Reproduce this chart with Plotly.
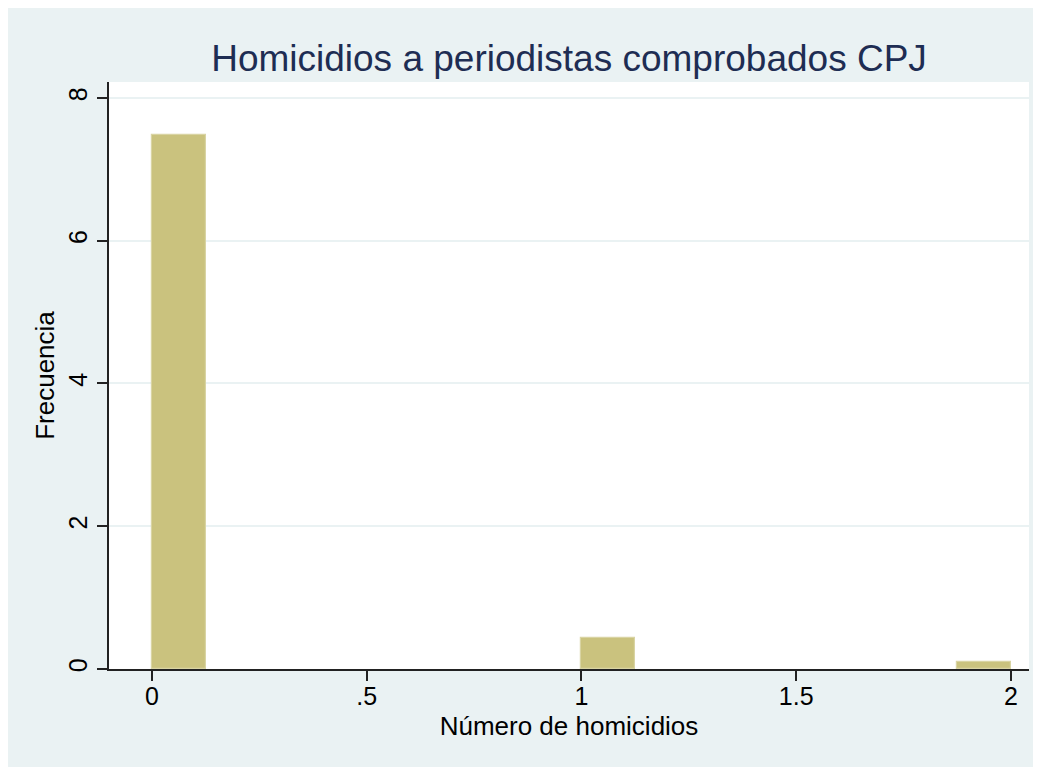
import plotly.graph_objects as go

# Data (Stata-style density histogram, bin width 0.125)
bin_starts = [0.0, 1.0, 1.875]
densities = [7.48, 0.44, 0.10]
bin_width = 0.125

x_tickvals = [0, 0.5, 1, 1.5, 2]
x_ticktext = ["0", ".5", "1", "1.5", "2"]
y_tickvals = [0, 2, 4, 6, 8]
y_ticktext = ["0", "2", "4", "6", "8"]

title_text = "Homicidios a periodistas comprobados CPJ"
x_title = "Número de homicidios"
y_title = "Frecuencia"

FONT = "Liberation Sans, Arial, Helvetica, sans-serif"
BG = "#EAF2F3"

# page body has an 8px margin: figure sits at (8, 8) in the window
W, H = 1033, 759

fig = go.Figure()
fig.add_trace(go.Bar(
    x=bin_starts, y=densities, width=bin_width, offset=0,
    marker=dict(color="#CAC27E", line=dict(color="#D9D4A3", width=1.2)),
    hoverinfo="x+y", showlegend=False,
))

fig.update_layout(
    width=W, height=H,
    margin=dict(l=101, r=12, t=74, b=98),
    paper_bgcolor=BG, plot_bgcolor="white",
    font=dict(family=FONT, color="black"),
    title=dict(text=title_text, x=0.5, xref="paper", xanchor="center",
               y=1 - 50 / H, yref="container", yanchor="middle",
               font=dict(size=37, color="#1E2D53", family=FONT)),
    bargap=0,
)

fig.update_xaxes(
    range=[-0.1, 2.042],
    tickvals=x_tickvals, ticktext=x_ticktext,
    ticks="outside", ticklen=10, tickwidth=1.5, tickcolor="#222",
    showline=True, linecolor="#222", linewidth=1.5,
    showgrid=False, zeroline=False,
    ticklabelstandoff=-6,
    tickfont=dict(size=25, family=FONT, color="black"),
    title=dict(text=x_title, font=dict(size=26, family=FONT, color="black"), standoff=8),
)
fig.update_yaxes(
    range=[0, 8.224],
    tickvals=y_tickvals, ticktext=y_ticktext, tickangle=-90,
    ticks="outside", ticklen=10, tickwidth=1.5, tickcolor="#222",
    showline=True, linecolor="#222", linewidth=1.5,
    showgrid=True, gridcolor=BG, gridwidth=2,
    zeroline=False,
    tickfont=dict(size=25, family=FONT, color="black"),
    title=dict(text=y_title, font=dict(size=26, family=FONT, color="black"), standoff=2),
)

fig.write_html("out.html")
